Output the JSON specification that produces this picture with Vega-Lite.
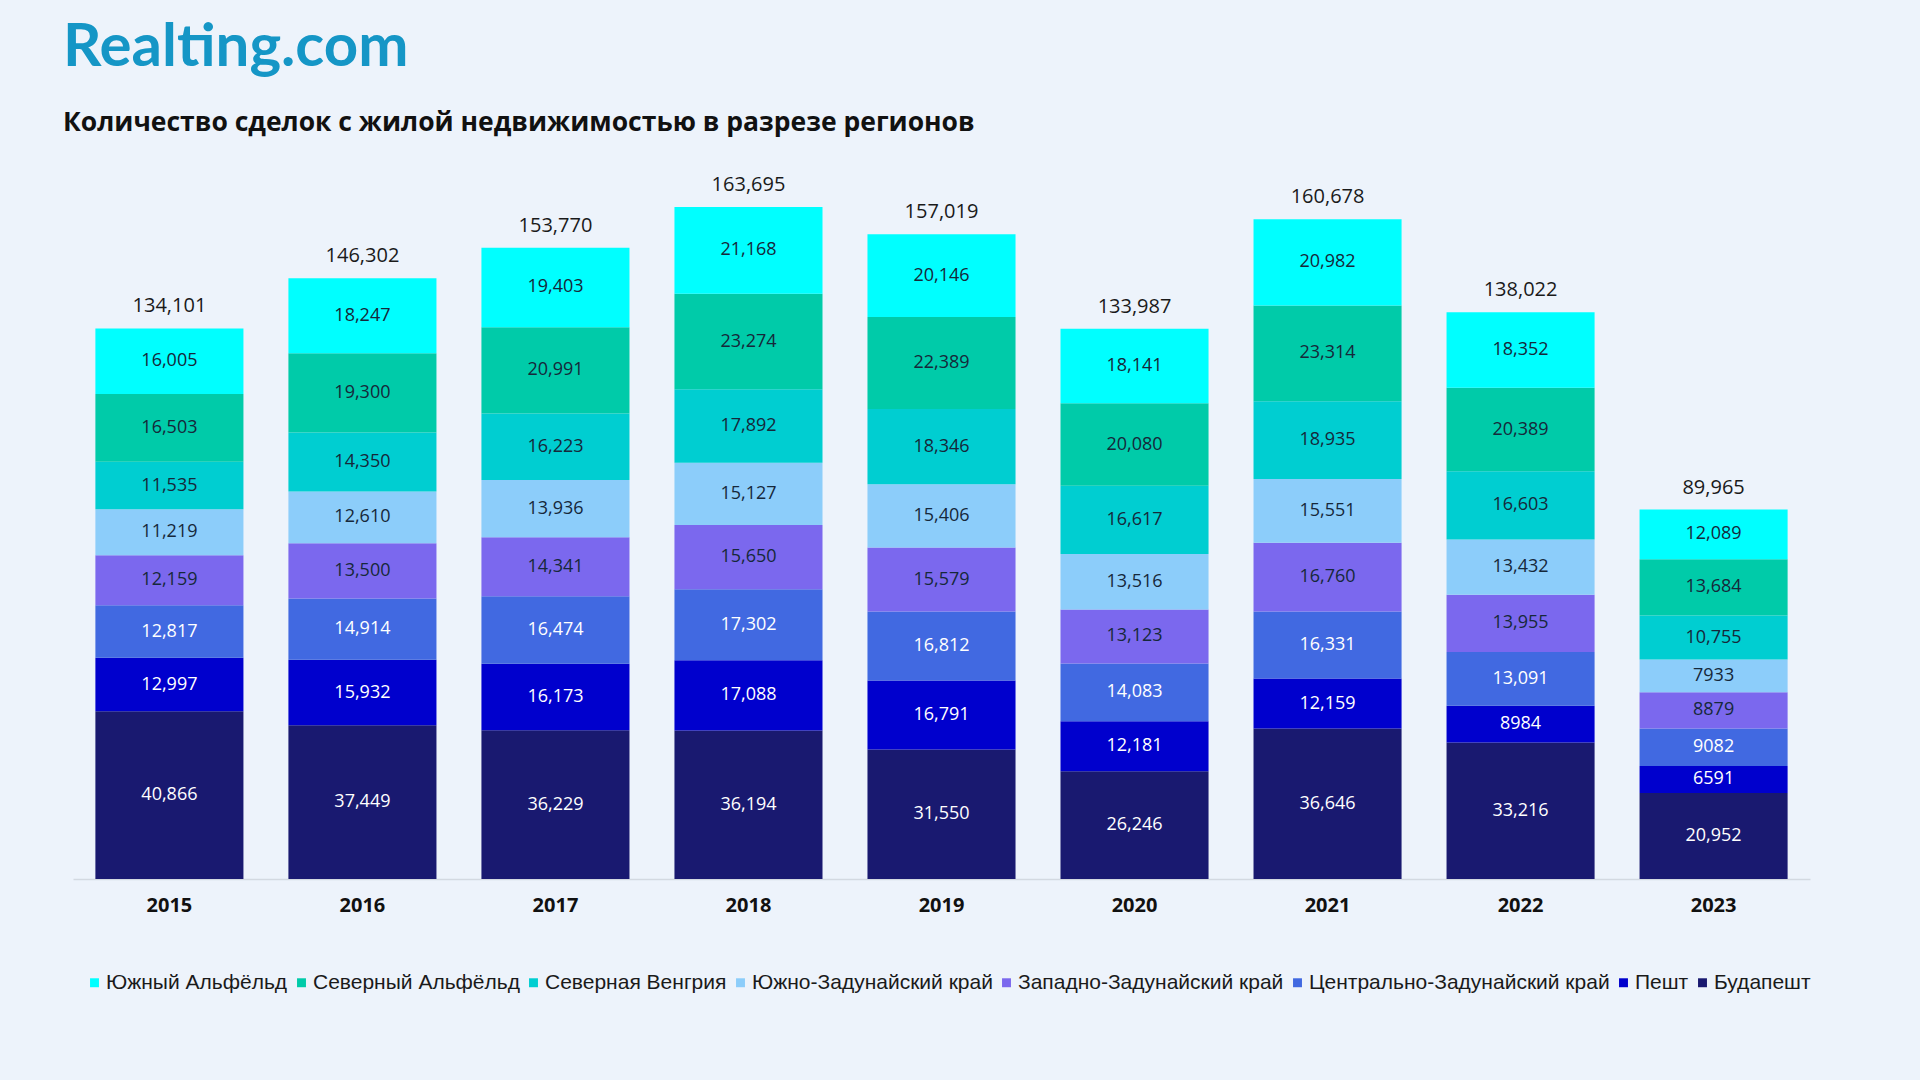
{
  "$schema": "https://vega.github.io/schema/vega-lite/v6.json",
  "width": 1737,
  "height": 698,
  "autosize": {"type": "none"},
  "padding": {"left": 73, "top": 181, "right": 110, "bottom": 201},
  "background": "#edf3fb",
  "config": {"view": {"stroke": null}},
  "title": {
    "text": "Realting.com",
    "subtitle": "Количество сделок с жилой недвижимостью в разрезе регионов",
    "anchor": "start",
    "frame": "group",
    "dx": -10,
    "offset": 37,
    "font": "Lato",
    "fontSize": 60,
    "fontWeight": "bold",
    "color": "#1596c6",
    "subtitleFont": "Open Sans",
    "subtitleFontSize": 26.5,
    "subtitleFontWeight": "bold",
    "subtitleColor": "#111111",
    "subtitlePadding": 31
  },
  "data": {
    "values": [
      {"year": "2015", "region": "Будапешт", "value": 40866},
      {"year": "2015", "region": "Пешт", "value": 12997},
      {"year": "2015", "region": "Центрально-Задунайский край", "value": 12817},
      {"year": "2015", "region": "Западно-Задунайский край", "value": 12159},
      {"year": "2015", "region": "Южно-Задунайский край", "value": 11219},
      {"year": "2015", "region": "Северная Венгрия", "value": 11535},
      {"year": "2015", "region": "Северный Альфёльд", "value": 16503},
      {"year": "2015", "region": "Южный Альфёльд", "value": 16005},
      {"year": "2016", "region": "Будапешт", "value": 37449},
      {"year": "2016", "region": "Пешт", "value": 15932},
      {"year": "2016", "region": "Центрально-Задунайский край", "value": 14914},
      {"year": "2016", "region": "Западно-Задунайский край", "value": 13500},
      {"year": "2016", "region": "Южно-Задунайский край", "value": 12610},
      {"year": "2016", "region": "Северная Венгрия", "value": 14350},
      {"year": "2016", "region": "Северный Альфёльд", "value": 19300},
      {"year": "2016", "region": "Южный Альфёльд", "value": 18247},
      {"year": "2017", "region": "Будапешт", "value": 36229},
      {"year": "2017", "region": "Пешт", "value": 16173},
      {"year": "2017", "region": "Центрально-Задунайский край", "value": 16474},
      {"year": "2017", "region": "Западно-Задунайский край", "value": 14341},
      {"year": "2017", "region": "Южно-Задунайский край", "value": 13936},
      {"year": "2017", "region": "Северная Венгрия", "value": 16223},
      {"year": "2017", "region": "Северный Альфёльд", "value": 20991},
      {"year": "2017", "region": "Южный Альфёльд", "value": 19403},
      {"year": "2018", "region": "Будапешт", "value": 36194},
      {"year": "2018", "region": "Пешт", "value": 17088},
      {"year": "2018", "region": "Центрально-Задунайский край", "value": 17302},
      {"year": "2018", "region": "Западно-Задунайский край", "value": 15650},
      {"year": "2018", "region": "Южно-Задунайский край", "value": 15127},
      {"year": "2018", "region": "Северная Венгрия", "value": 17892},
      {"year": "2018", "region": "Северный Альфёльд", "value": 23274},
      {"year": "2018", "region": "Южный Альфёльд", "value": 21168},
      {"year": "2019", "region": "Будапешт", "value": 31550},
      {"year": "2019", "region": "Пешт", "value": 16791},
      {"year": "2019", "region": "Центрально-Задунайский край", "value": 16812},
      {"year": "2019", "region": "Западно-Задунайский край", "value": 15579},
      {"year": "2019", "region": "Южно-Задунайский край", "value": 15406},
      {"year": "2019", "region": "Северная Венгрия", "value": 18346},
      {"year": "2019", "region": "Северный Альфёльд", "value": 22389},
      {"year": "2019", "region": "Южный Альфёльд", "value": 20146},
      {"year": "2020", "region": "Будапешт", "value": 26246},
      {"year": "2020", "region": "Пешт", "value": 12181},
      {"year": "2020", "region": "Центрально-Задунайский край", "value": 14083},
      {"year": "2020", "region": "Западно-Задунайский край", "value": 13123},
      {"year": "2020", "region": "Южно-Задунайский край", "value": 13516},
      {"year": "2020", "region": "Северная Венгрия", "value": 16617},
      {"year": "2020", "region": "Северный Альфёльд", "value": 20080},
      {"year": "2020", "region": "Южный Альфёльд", "value": 18141},
      {"year": "2021", "region": "Будапешт", "value": 36646},
      {"year": "2021", "region": "Пешт", "value": 12159},
      {"year": "2021", "region": "Центрально-Задунайский край", "value": 16331},
      {"year": "2021", "region": "Западно-Задунайский край", "value": 16760},
      {"year": "2021", "region": "Южно-Задунайский край", "value": 15551},
      {"year": "2021", "region": "Северная Венгрия", "value": 18935},
      {"year": "2021", "region": "Северный Альфёльд", "value": 23314},
      {"year": "2021", "region": "Южный Альфёльд", "value": 20982},
      {"year": "2022", "region": "Будапешт", "value": 33216},
      {"year": "2022", "region": "Пешт", "value": 8984},
      {"year": "2022", "region": "Центрально-Задунайский край", "value": 13091},
      {"year": "2022", "region": "Западно-Задунайский край", "value": 13955},
      {"year": "2022", "region": "Южно-Задунайский край", "value": 13432},
      {"year": "2022", "region": "Северная Венгрия", "value": 16603},
      {"year": "2022", "region": "Северный Альфёльд", "value": 20389},
      {"year": "2022", "region": "Южный Альфёльд", "value": 18352},
      {"year": "2023", "region": "Будапешт", "value": 20952},
      {"year": "2023", "region": "Пешт", "value": 6591},
      {"year": "2023", "region": "Центрально-Задунайский край", "value": 9082},
      {"year": "2023", "region": "Западно-Задунайский край", "value": 8879},
      {"year": "2023", "region": "Южно-Задунайский край", "value": 7933},
      {"year": "2023", "region": "Северная Венгрия", "value": 10755},
      {"year": "2023", "region": "Северный Альфёльд", "value": 13684},
      {"year": "2023", "region": "Южный Альфёльд", "value": 12089}
    ]
  },
  "transform": [
    {"calculate": "indexof(['Южный Альфёльд','Северный Альфёльд','Северная Венгрия','Южно-Задунайский край','Западно-Задунайский край','Центрально-Задунайский край','Пешт','Будапешт'], datum.region)", "as": "k"},
    {"stack": "value", "groupby": ["year"], "sort": [{"field": "k", "order": "descending"}], "as": ["v0", "v1"]},
    {"calculate": "(datum.v0 + datum.v1) / 2", "as": "mid"},
    {"calculate": "datum.value >= 10000 ? format(datum.value, ',') : format(datum.value, 'd')", "as": "lbl"}
  ],
  "encoding": {
    "x": {
      "field": "year",
      "type": "nominal",
      "scale": {"paddingInner": 0.233, "paddingOuter": 0.116},
      "axis": {
        "title": null,
        "labelAngle": 0,
        "ticks": false,
        "domain": true,
        "domainColor": "#d3d9e1",
        "domainWidth": 1.5,
        "labelFont": "Open Sans",
        "labelFontSize": 20,
        "labelFontWeight": "bold",
        "labelColor": "#111111",
        "labelPadding": 16,
        "grid": false
      }
    }
  },
  "layer": [
    {
      "mark": {"type": "bar"},
      "encoding": {
        "y": {"field": "v0", "type": "quantitative", "scale": {"domain": [0, 170000], "nice": false, "zero": true}, "axis": null},
        "y2": {"field": "v1"},
        "color": {
          "field": "region",
          "type": "nominal",
          "scale": {
            "domain": ["Южный Альфёльд", "Северный Альфёльд", "Северная Венгрия", "Южно-Задунайский край", "Западно-Задунайский край", "Центрально-Задунайский край", "Пешт", "Будапешт"],
            "range": ["#00ffff", "#00cba9", "#00ced1", "#8ccdfa", "#7b68ee", "#4169e1", "#0000cd", "#191970"]
          },
          "legend": {
            "title": null,
            "orient": "none",
            "legendX": 11,
            "legendY": 791,
            "direction": "horizontal",
            "columns": 8,
            "symbolType": "square",
            "symbolSize": 80,
            "symbolStrokeWidth": 0,
            "labelFont": "Liberation Sans",
            "labelFontSize": 21,
            "labelColor": "#1a1a1a",
            "labelOffset": 1,
            "columnPadding": 3,
            "labelLimit": 400
          }
        }
      }
    },
    {
      "mark": {"type": "text", "font": "Open Sans", "fontSize": 18},
      "encoding": {
        "y": {"field": "mid", "type": "quantitative"},
        "text": {"field": "lbl", "type": "nominal"},
        "color": {
          "condition": {"test": "indexof(['Пешт','Будапешт','Центрально-Задунайский край'], datum.region) >= 0", "value": "#ffffff"},
          "value": "#16283a"
        }
      }
    },
    {
      "mark": {"type": "text", "font": "Open Sans", "fontSize": 20, "dy": -22, "color": "#1a1a1a"},
      "encoding": {
        "y": {"aggregate": "sum", "field": "value", "type": "quantitative"},
        "text": {"aggregate": "sum", "field": "value", "type": "quantitative", "format": ","}
      }
    }
  ]
}
